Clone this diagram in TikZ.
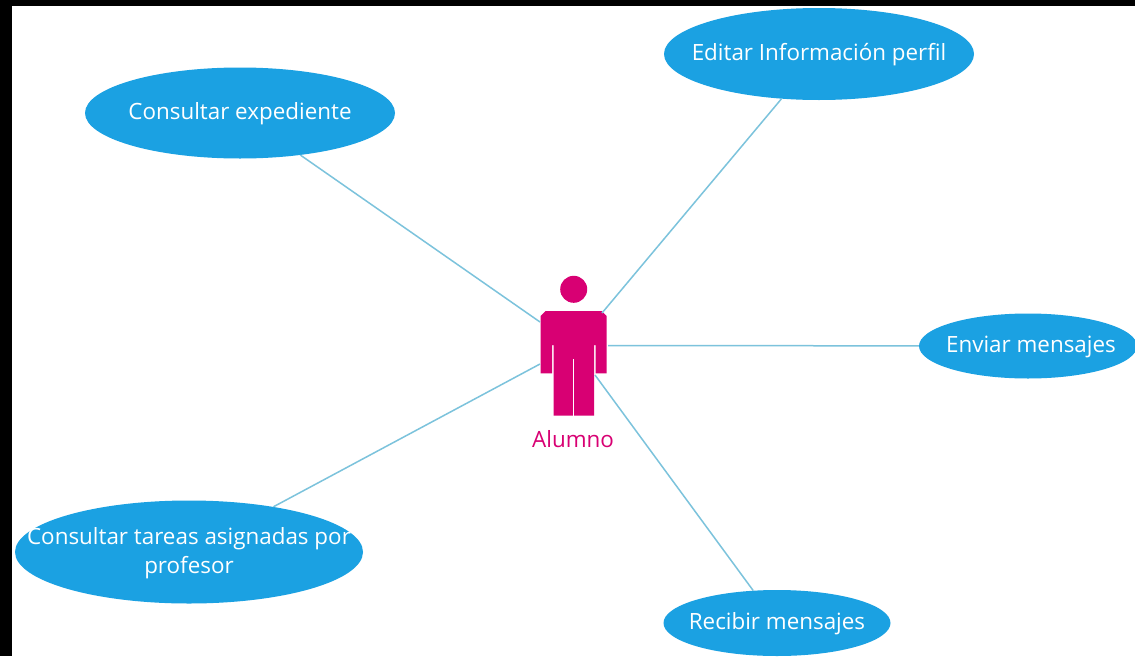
\documentclass[tikz,border=0pt]{standalone}
\usepackage{fontspec}
\setmainfont{Open Sans}
\usetikzlibrary{shapes.geometric}
\definecolor{casoazul}{HTML}{1BA1E2}
\definecolor{lineaazul}{HTML}{7CC3DC}
\definecolor{actorrosa}{HTML}{D80073}
\begin{document}
\begin{tikzpicture}[x=1pt,y=-1pt,
    caso/.style 2 args={ellipse, fill=casoazul, inner sep=0pt, minimum width=#1pt, minimum height=#2pt},
    texto/.style={text=white, align=center, font=\fontsize{22.4}{29}\selectfont, inner sep=0pt, yshift=-1pt},
    linea/.style={draw=lineaazul, line width=1.5pt}]
    \useasboundingbox (0,0) rectangle (1135,656);
    \fill[black] (0,0) rectangle (1135,656);
    \fill[white] (12,6) rectangle (1135,656);
    % casos de uso
    \node[caso={310}{91}] (expediente) at (240,113) {};
    \node[caso={310}{92}] (perfil) at (819,54) {};
    \node[caso={218}{65}] (enviar) at (1028,346) {};
    \node[caso={227}{66}] (recibir) at (777,623) {};
    \node[caso={348}{103}] (tareas) at (189,552) {};
    \node[texto] (expedienteT) at (expediente) {Consultar expediente};
    \node[texto] (perfilT) at (perfil) {Editar Información perfil};
    \node[texto, xshift=3pt] (enviarT) at (enviar) {Enviar mensajes};
    \node[texto] (recibirT) at (recibir) {Recibir mensajes};
    \node[texto] (tareasT) at (tareas) {Consultar tareas asignadas por\\profesor};
    % actor
    \fill[actorrosa] (573.7,289.3) circle (13.5);
    \fill[actorrosa] (545.7,311) -- (601.7,311) -- (606.7,316) -- (606.7,373.3) -- (595.5,373.3)
        -- (595.5,345) -- (594,345) -- (594,415.7) -- (553.5,415.7) -- (553.5,345) -- (552,345)
        -- (552,373.3) -- (540.7,373.3) -- (540.7,316) -- cycle;
    \draw[white, line width=1.2pt] (573.5,359) -- (573.5,416);
    \node[text=actorrosa, font=\fontsize{22.4}{26}\selectfont, inner sep=0pt] (alumno) at (573,439) {Alumno};
    \coordinate (a1) at (540,322);
    \coordinate (a2) at (602,313);
    \coordinate (a3) at (608,345.5);
    \coordinate (a4) at (595,375);
    \coordinate (a5) at (540,364);
    % conexiones
    \draw[linea] (expediente) -- (a1);
    \draw[linea] (perfil) -- (a2);
    \draw[linea] (enviar) -- (a3);
    \draw[linea] (recibir) -- (a4);
    \draw[linea] (tareas) -- (a5);
\end{tikzpicture}
\end{document}
